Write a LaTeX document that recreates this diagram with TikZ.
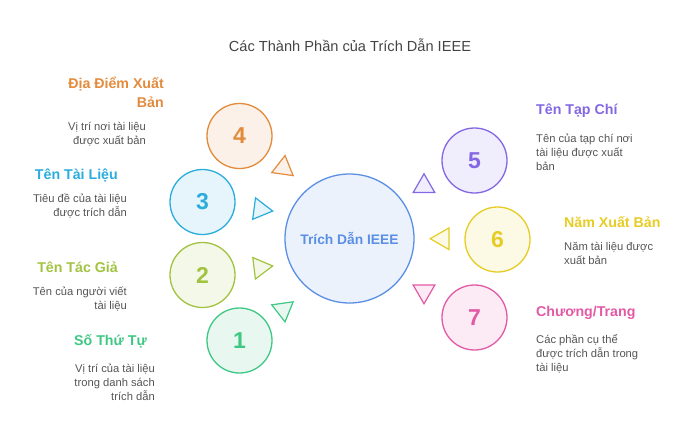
\documentclass[tikz,border=0pt]{standalone}
\usepackage{fontspec}
\setmainfont{Liberation Sans}
\usetikzlibrary{shapes.geometric}
\definecolor{hubblue}{HTML}{5B8FE6}
\definecolor{corange}{HTML}{E38B3C}
\definecolor{ccyan}{HTML}{2AADDC}
\definecolor{clime}{HTML}{A2C341}
\definecolor{cgreen}{HTML}{3FC884}
\definecolor{cpurple}{HTML}{8467E2}
\definecolor{cyellow}{HTML}{E6CC25}
\definecolor{cpink}{HTML}{E25AA6}
\definecolor{descgray}{HTML}{555555}
\definecolor{titlegray}{HTML}{444444}

\begin{document}
\begin{tikzpicture}[x=1pt, y=-1pt,
    numcircle/.style={circle, draw=#1, fill=#1!12, line width=1.3pt, minimum size=65pt,
        inner sep=0pt, text=#1, font=\fontsize{23}{23}\selectfont\bfseries},
    tri/.style={regular polygon, regular polygon sides=3, draw=#1, fill=#1!12,
        line width=1.2pt, minimum size=25pt, inner sep=0pt},
    heading/.style={font=\fontsize{14.2}{19}\selectfont\bfseries, text=#1, inner sep=0pt},
    desc/.style={font=\fontsize{11.2}{14}\selectfont, text=descgray, inner sep=0pt}]
    \useasboundingbox (0,0) rectangle (700,442);

    % Title
    \node[font=\fontsize{14.6}{16}\selectfont, text=titlegray] (title) at (350,45) {Các Thành Phần của Trích Dẫn IEEE};

    % Hub
    \node[circle, draw=hubblue, fill=hubblue!12, line width=1.3pt, minimum size=129pt,
        text=hubblue, font=\fontsize{13.8}{15}\selectfont\bfseries] (hub) at (349.5,238.5) {Trích Dẫn IEEE};

    % Numbered circles
    \node[numcircle=cgreen] (c1) at (239.5,340.5) {1};
    \node[numcircle=clime] (c2) at (202.5,275) {2};
    \node[numcircle=ccyan] (c3) at (202.5,202) {3};
    \node[numcircle=corange] (c4) at (239.5,136) {4};
    \node[numcircle=cpurple] (c5) at (474.5,160.5) {5};
    \node[numcircle=cyellow] (c6) at (497.5,239.5) {6};
    \node[numcircle=cpink] (c7) at (474.5,317.5) {7};

    % Triangles round the hub
    \node[tri=cgreen, rotate=-52] (t1) at (283.3,309.5) {};
    \node[tri=clime, rotate=37] (t2) at (260.3,267.5) {};
    \node[tri=ccyan, rotate=22.5] (t3) at (260.3,209.4) {};
    \node[tri=corange, rotate=-8] (t4) at (283.3,167.9) {};
    \node[tri=cpurple] (t5) at (424,186.3) {};
    \node[tri=cyellow, rotate=-30] (t6) at (442.7,238.7) {};
    \node[tri=cpink, rotate=60] (t7) at (424,291.3) {};

    % Left labels
    \node[heading=corange, anchor=east, align=right] (h4) at (164,92.5) {Địa Điểm Xuất\\Bản};
    \node[desc, anchor=east, align=right] (d4) at (146,134) {Vị trí nơi tài liệu\\được xuất bản};
    \node[heading=ccyan, anchor=east] (h3) at (118,175) {Tên Tài Liệu};
    \node[desc, anchor=east, align=right] (d3) at (127,206) {Tiêu đề của tài liệu\\được trích dẫn};
    \node[heading=clime, anchor=east] (h2) at (118,267) {Tên Tác Giả};
    \node[desc, anchor=east, align=right] (d2) at (127,299) {Tên của người viết\\tài liệu};
    \node[heading=cgreen, anchor=east] (h1) at (147,341) {Số Thứ Tự};
    \node[desc, anchor=east, align=right] (d1) at (155,382) {Vị trí của tài liệu\\trong danh sách\\trích dẫn};

    % Right labels
    \node[heading=cpurple, anchor=west] (h5) at (536,111) {Tên Tạp Chí};
    \node[desc, anchor=west, align=left] (d5) at (536,152) {Tên của tạp chí nơi\\tài liệu được xuất\\bản};
    \node[heading=cyellow, anchor=west] (h6) at (564,222) {Năm Xuất Bản};
    \node[desc, anchor=west, align=left] (d6) at (564,253) {Năm tài liệu được\\xuất bản};
    \node[heading=cpink, anchor=west] (h7) at (536,313) {Chương/Trang};
    \node[desc, anchor=west, align=left] (d7) at (536,354) {Các phần cụ thể\\được trích dẫn trong\\tài liệu};
\end{tikzpicture}
\end{document}
